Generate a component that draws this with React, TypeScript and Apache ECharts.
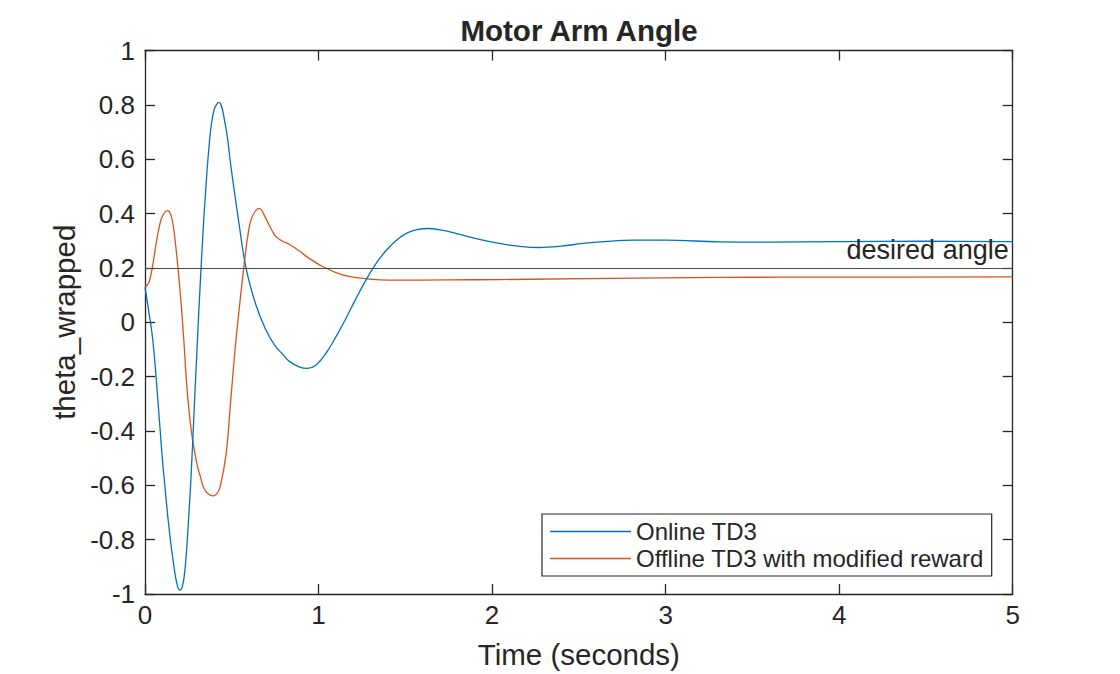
import React, { useEffect, useRef } from "react";
import * as echarts from "echarts";

const FONT = "'Liberation Sans', Arial, Helvetica, sans-serif";
const TEXT = "#262626";

const xTicks = [0, 1, 2, 3, 4, 5];
const yTicks = [-1, -0.8, -0.6, -0.4, -0.2, 0, 0.2, 0.4, 0.6, 0.8, 1];

const seriesNames = ["Online TD3", "Offline TD3 with modified reward"];
const desiredAngle = 0.2;
const desiredLabel = "desired angle";

const tOnline = [
  0, 0.021, 0.044, 0.069, 0.098, 0.11, 0.138, 0.167, 0.186, 0.202, 0.219, 0.235, 0.254, 0.265,
  0.282, 0.3, 0.323, 0.348, 0.377, 0.4, 0.425, 0.463, 0.498, 0.54, 0.582, 0.636, 0.694, 0.748,
  0.8, 0.83, 0.888, 0.936, 0.984, 1.042, 1.1, 1.157, 1.215, 1.273, 1.33, 1.388, 1.446, 1.503,
  1.561, 1.638, 1.734, 1.811, 1.92, 2.042, 2.15, 2.27, 2.4, 2.522, 2.65, 2.81, 3.0, 3.31, 3.6,
  4.0, 4.5, 5.0,
];
const yOnline = [
  0.129, 0.043, -0.06, -0.243, -0.487, -0.572, -0.755, -0.901, -0.968, -0.986, -0.962, -0.877,
  -0.694, -0.572, -0.34, -0.095, 0.2, 0.47, 0.7, 0.785, 0.809, 0.726, 0.56, 0.37, 0.2, 0.07,
  -0.025, -0.085, -0.122, -0.143, -0.164, -0.17, -0.158, -0.115, -0.054, 0.013, 0.086, 0.155,
  0.215, 0.263, 0.3, 0.326, 0.34, 0.345, 0.336, 0.324, 0.306, 0.29, 0.28, 0.275, 0.28, 0.29,
  0.297, 0.302, 0.302, 0.296, 0.295, 0.297, 0.298, 0.297,
];

const tOffline = [
  0, 0.023, 0.042, 0.062, 0.081, 0.1, 0.129, 0.148, 0.163, 0.177, 0.19, 0.206, 0.223, 0.242,
  0.267, 0.3, 0.321, 0.338, 0.365, 0.392, 0.415, 0.434, 0.467, 0.492, 0.511, 0.525, 0.544, 0.569,
  0.594, 0.617, 0.659, 0.694, 0.723, 0.752, 0.79, 0.83, 0.888, 0.946, 1.023, 1.1, 1.176, 1.292,
  1.407, 1.75, 2.04, 3.31, 4.0, 5.0,
];
const yOffline = [
  0.129, 0.147, 0.202, 0.281, 0.348, 0.39, 0.411, 0.397, 0.354, 0.281, 0.2, 0.086, -0.06, -0.243,
  -0.4, -0.524, -0.572, -0.609, -0.632, -0.639, -0.63, -0.603, -0.487, -0.304, -0.158, -0.06,
  0.056, 0.2, 0.324, 0.387, 0.419, 0.385, 0.348, 0.317, 0.299, 0.287, 0.263, 0.235, 0.205, 0.183,
  0.169, 0.159, 0.155, 0.156, 0.157, 0.165, 0.166, 0.167,
];

const zip = (t: number[], y: number[]) => t.map((v, i) => [v, y[i]]);

export default function App() {
  const ref = useRef<HTMLDivElement>(null);
  useEffect(() => {
    if (!ref.current) return;
    const chart = echarts.init(ref.current, undefined, { renderer: "svg" });
    const axisLine = { show: true, onZero: false, lineStyle: { color: TEXT, width: 1.3 } };
    const tick = { show: true, inside: true, length: 10, lineStyle: { color: TEXT, width: 1.3 } };
    chart.setOption({
      animation: false,
      backgroundColor: "#ffffff",
      textStyle: { fontFamily: FONT },
      title: {
        text: "Motor Arm Angle",
        left: 579,
        top: 15,
        padding: 0,
        textAlign: "center",
        textStyle: { fontFamily: FONT, fontSize: 29.5, fontWeight: "bold", color: TEXT },
      },
      grid: { left: 145, top: 50.5, right: 107.3, bottom: 76.3, containLabel: false },
      legend: {
        orient: "vertical",
        left: 542,
        top: 514,
        padding: [4, 8, 4, 8],
        itemGap: 0,
        icon: "rect",
        itemWidth: 81,
        itemHeight: 1.3,
        borderColor: TEXT,
        borderWidth: 1.2,
        backgroundColor: "#ffffff",
        textStyle: { fontFamily: FONT, fontSize: 24, color: TEXT, lineHeight: 27 },
        data: seriesNames,
      },
      xAxis: [
        {
          type: "value",
          min: xTicks[0],
          max: xTicks[xTicks.length - 1],
          interval: 1,
          name: "Time (seconds)",
          nameLocation: "middle",
          nameGap: 45,
          nameTextStyle: { fontFamily: FONT, fontSize: 29.5, color: TEXT },
          axisLine,
          axisTick: tick,
          axisLabel: { fontFamily: FONT, fontSize: 26, color: TEXT, margin: 8 },
          splitLine: { show: false },
        },
        {
          type: "value",
          position: "top",
          min: xTicks[0],
          max: xTicks[xTicks.length - 1],
          interval: 1,
          axisLine,
          axisTick: tick,
          axisLabel: { show: false },
          splitLine: { show: false },
        },
      ],
      yAxis: [
        {
          type: "value",
          min: yTicks[0],
          max: yTicks[yTicks.length - 1],
          interval: 0.2,
          name: "theta_wrapped",
          nameLocation: "middle",
          nameGap: 64,
          nameTextStyle: { fontFamily: FONT, fontSize: 29.5, color: TEXT },
          axisLine,
          axisTick: tick,
          axisLabel: { fontFamily: FONT, fontSize: 26, color: TEXT, margin: 10 },
          splitLine: { show: false },
        },
        {
          type: "value",
          position: "right",
          min: yTicks[0],
          max: yTicks[yTicks.length - 1],
          interval: 0.2,
          axisLine,
          axisTick: tick,
          axisLabel: { show: false },
          splitLine: { show: false },
        },
      ],
      series: [
        {
          name: seriesNames[0],
          type: "line",
          data: zip(tOnline, yOnline),
          smooth: 0.4,
          symbol: "none",
          lineStyle: { color: "#0072BD", width: 1.3 },
          itemStyle: { color: "#0072BD" },
          z: 3,
          markLine: {
            silent: true,
            symbol: ["none", "none"],
            lineStyle: { color: "#4a4a4a", width: 1.2, type: "solid" },
            label: {
              show: true,
              position: "insideEndTop",
              formatter: desiredLabel,
              fontFamily: FONT,
              fontSize: 27,
              color: TEXT,
              distance: 4,
            },
            data: [{ yAxis: desiredAngle }],
          },
        },
        {
          name: seriesNames[1],
          type: "line",
          data: zip(tOffline, yOffline),
          smooth: 0.4,
          symbol: "none",
          lineStyle: { color: "#D95319", width: 1.3 },
          itemStyle: { color: "#D95319" },
          z: 2,
        },
      ],
    });
    return () => chart.dispose();
  }, []);
  return (
    <div
      ref={ref}
      style={{ position: "absolute", left: 0, top: 0, width: 1120, height: 674 }}
    />
  );
}
